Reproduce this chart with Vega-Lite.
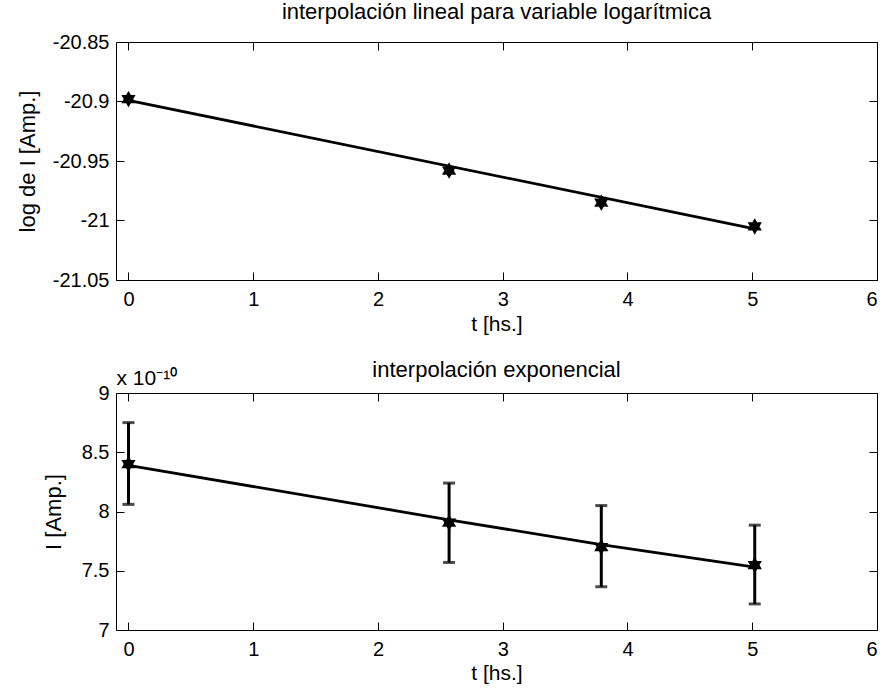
{
  "$schema": "https://vega.github.io/schema/vega-lite/v6.json",
  "background": "white",
  "padding": {"left": 15, "top": 0, "right": 5, "bottom": 5},
  "datasets": {
    "pts": [
      {"t": 0, "logI": -20.898, "I": 8.40, "lo": 8.06, "hi": 8.75},
      {"t": 2.57, "logI": -20.958, "I": 7.906, "lo": 7.57, "hi": 8.24},
      {"t": 3.79, "logI": -20.985, "I": 7.70, "lo": 7.365, "hi": 8.05},
      {"t": 5.02, "logI": -21.005, "I": 7.548, "lo": 7.22, "hi": 7.885}
    ],
    "fitTop": [
      {"t": 0, "logI": -20.899},
      {"t": 5.02, "logI": -21.007}
    ],
    "fitBot": [
      {"t": 0, "I": 8.39},
      {"t": 2.57, "I": 7.93},
      {"t": 3.79, "I": 7.72},
      {"t": 5.02, "I": 7.53}
    ]
  },
  "config": {
    "font": "Liberation Sans",
    "view": {"stroke": "black", "strokeWidth": 1},
    "axis": {
      "grid": false,
      "domain": false,
      "tickColor": "black",
      "tickSize": -8,
      "tickWidth": 1,
      "labelColor": "black",
      "labelFontSize": 20,
      "titleFontSize": 21,
      "titleFontWeight": "normal",
      "titleColor": "black",
      "labelExpr": "replace(format(datum.value, '~g'), '−', '-')"
    },
    "axisX": {"labelPadding": 17},
    "axisY": {"labelPadding": 15},
    "title": {"fontSize": 22, "fontWeight": "normal", "color": "black"},
    "concat": {"spacing": 23}
  },
  "vconcat": [
    {
      "width": 761,
      "height": 238,
      "title": {"text": "interpolación lineal para variable logarítmica", "offset": 8},
      "layer": [
        {
          "data": {"name": "fitTop"},
          "mark": {"type": "line", "color": "black", "strokeWidth": 2.8},
          "encoding": {
            "x": {"field": "t", "type": "quantitative", "scale": {"domain": [-0.1, 6], "nice": false, "zero": false},
                  "axis": {"values": [0, 1, 2, 3, 4, 5, 6], "title": "t [hs.]", "titlePadding": 4}},
            "y": {"field": "logI", "type": "quantitative", "scale": {"domain": [-21.05, -20.85], "nice": false, "zero": false},
                  "axis": {"values": [-21.05, -21, -20.95, -20.9, -20.85], "title": "log de I [Amp.]", "titlePadding": 13, "titleFontSize": 22}}
          }
        },
        {
          "data": {"name": "pts"},
          "mark": {"type": "point", "shape": "M0,-1L0.289,-0.5L0.866,-0.5L0.577,0L0.866,0.5L0.289,0.5L0,1L-0.289,0.5L-0.866,0.5L-0.577,0L-0.866,-0.5L-0.289,-0.5Z", "filled": true, "color": "black", "opacity": 1, "size": 270},
          "encoding": {
            "x": {"field": "t", "type": "quantitative", "scale": {"domain": [-0.1, 6], "nice": false, "zero": false},
                  "axis": {"orient": "top", "values": [0, 1, 2, 3, 4, 5, 6], "labels": false, "title": null}},
            "y": {"field": "logI", "type": "quantitative", "scale": {"domain": [-21.05, -20.85], "nice": false, "zero": false},
                  "axis": {"orient": "right", "values": [-21.05, -21, -20.95, -20.9, -20.85], "labels": false, "title": null}}
          }
        }
      ],
      "resolve": {"axis": {"x": "independent", "y": "independent"}}
    },
    {
      "width": 761,
      "height": 237,
      "title": {"text": "interpolación exponencial", "offset": -14},
      "layer": [
        {
          "data": {"name": "fitBot"},
          "mark": {"type": "line", "color": "black", "strokeWidth": 2.8},
          "encoding": {
            "x": {"field": "t", "type": "quantitative", "scale": {"domain": [-0.1, 6], "nice": false, "zero": false},
                  "axis": {"values": [0, 1, 2, 3, 4, 5, 6], "title": "t [hs.]", "titlePadding": 3}},
            "y": {"field": "I", "type": "quantitative", "scale": {"domain": [7, 9], "nice": false, "zero": false},
                  "axis": {"values": [7, 7.5, 8, 8.5, 9], "title": "I [Amp.]", "titlePadding": 16, "titleFontSize": 22}}
          }
        },
        {
          "data": {"name": "pts"},
          "mark": {"type": "errorbar", "color": "black", "thickness": 3, "ticks": {"size": 12, "thickness": 3, "color": "black"}},
          "encoding": {
            "x": {"field": "t", "type": "quantitative", "scale": {"domain": [-0.1, 6], "nice": false, "zero": false},
                  "axis": {"orient": "top", "values": [0, 1, 2, 3, 4, 5, 6], "labels": false, "title": "x 10⁻¹⁰", "titleAnchor": "start", "titleAlign": "left", "titlePadding": 4}},
            "y": {"field": "lo", "type": "quantitative", "scale": {"domain": [7, 9], "nice": false, "zero": false},
                  "axis": {"orient": "right", "values": [7, 7.5, 8, 8.5, 9], "labels": false, "title": null}},
            "y2": {"field": "hi"}
          }
        },
        {
          "data": {"name": "pts"},
          "mark": {"type": "point", "shape": "M0,-1L0.289,-0.5L0.866,-0.5L0.577,0L0.866,0.5L0.289,0.5L0,1L-0.289,0.5L-0.866,0.5L-0.577,0L-0.866,-0.5L-0.289,-0.5Z", "filled": true, "color": "black", "opacity": 1, "size": 270},
          "encoding": {
            "x": {"field": "t", "type": "quantitative", "scale": {"domain": [-0.1, 6], "nice": false, "zero": false}, "axis": null},
            "y": {"field": "I", "type": "quantitative", "scale": {"domain": [7, 9], "nice": false, "zero": false}, "axis": null}
          }
        }
      ],
      "resolve": {"axis": {"x": "independent", "y": "independent"}}
    }
  ]
}
